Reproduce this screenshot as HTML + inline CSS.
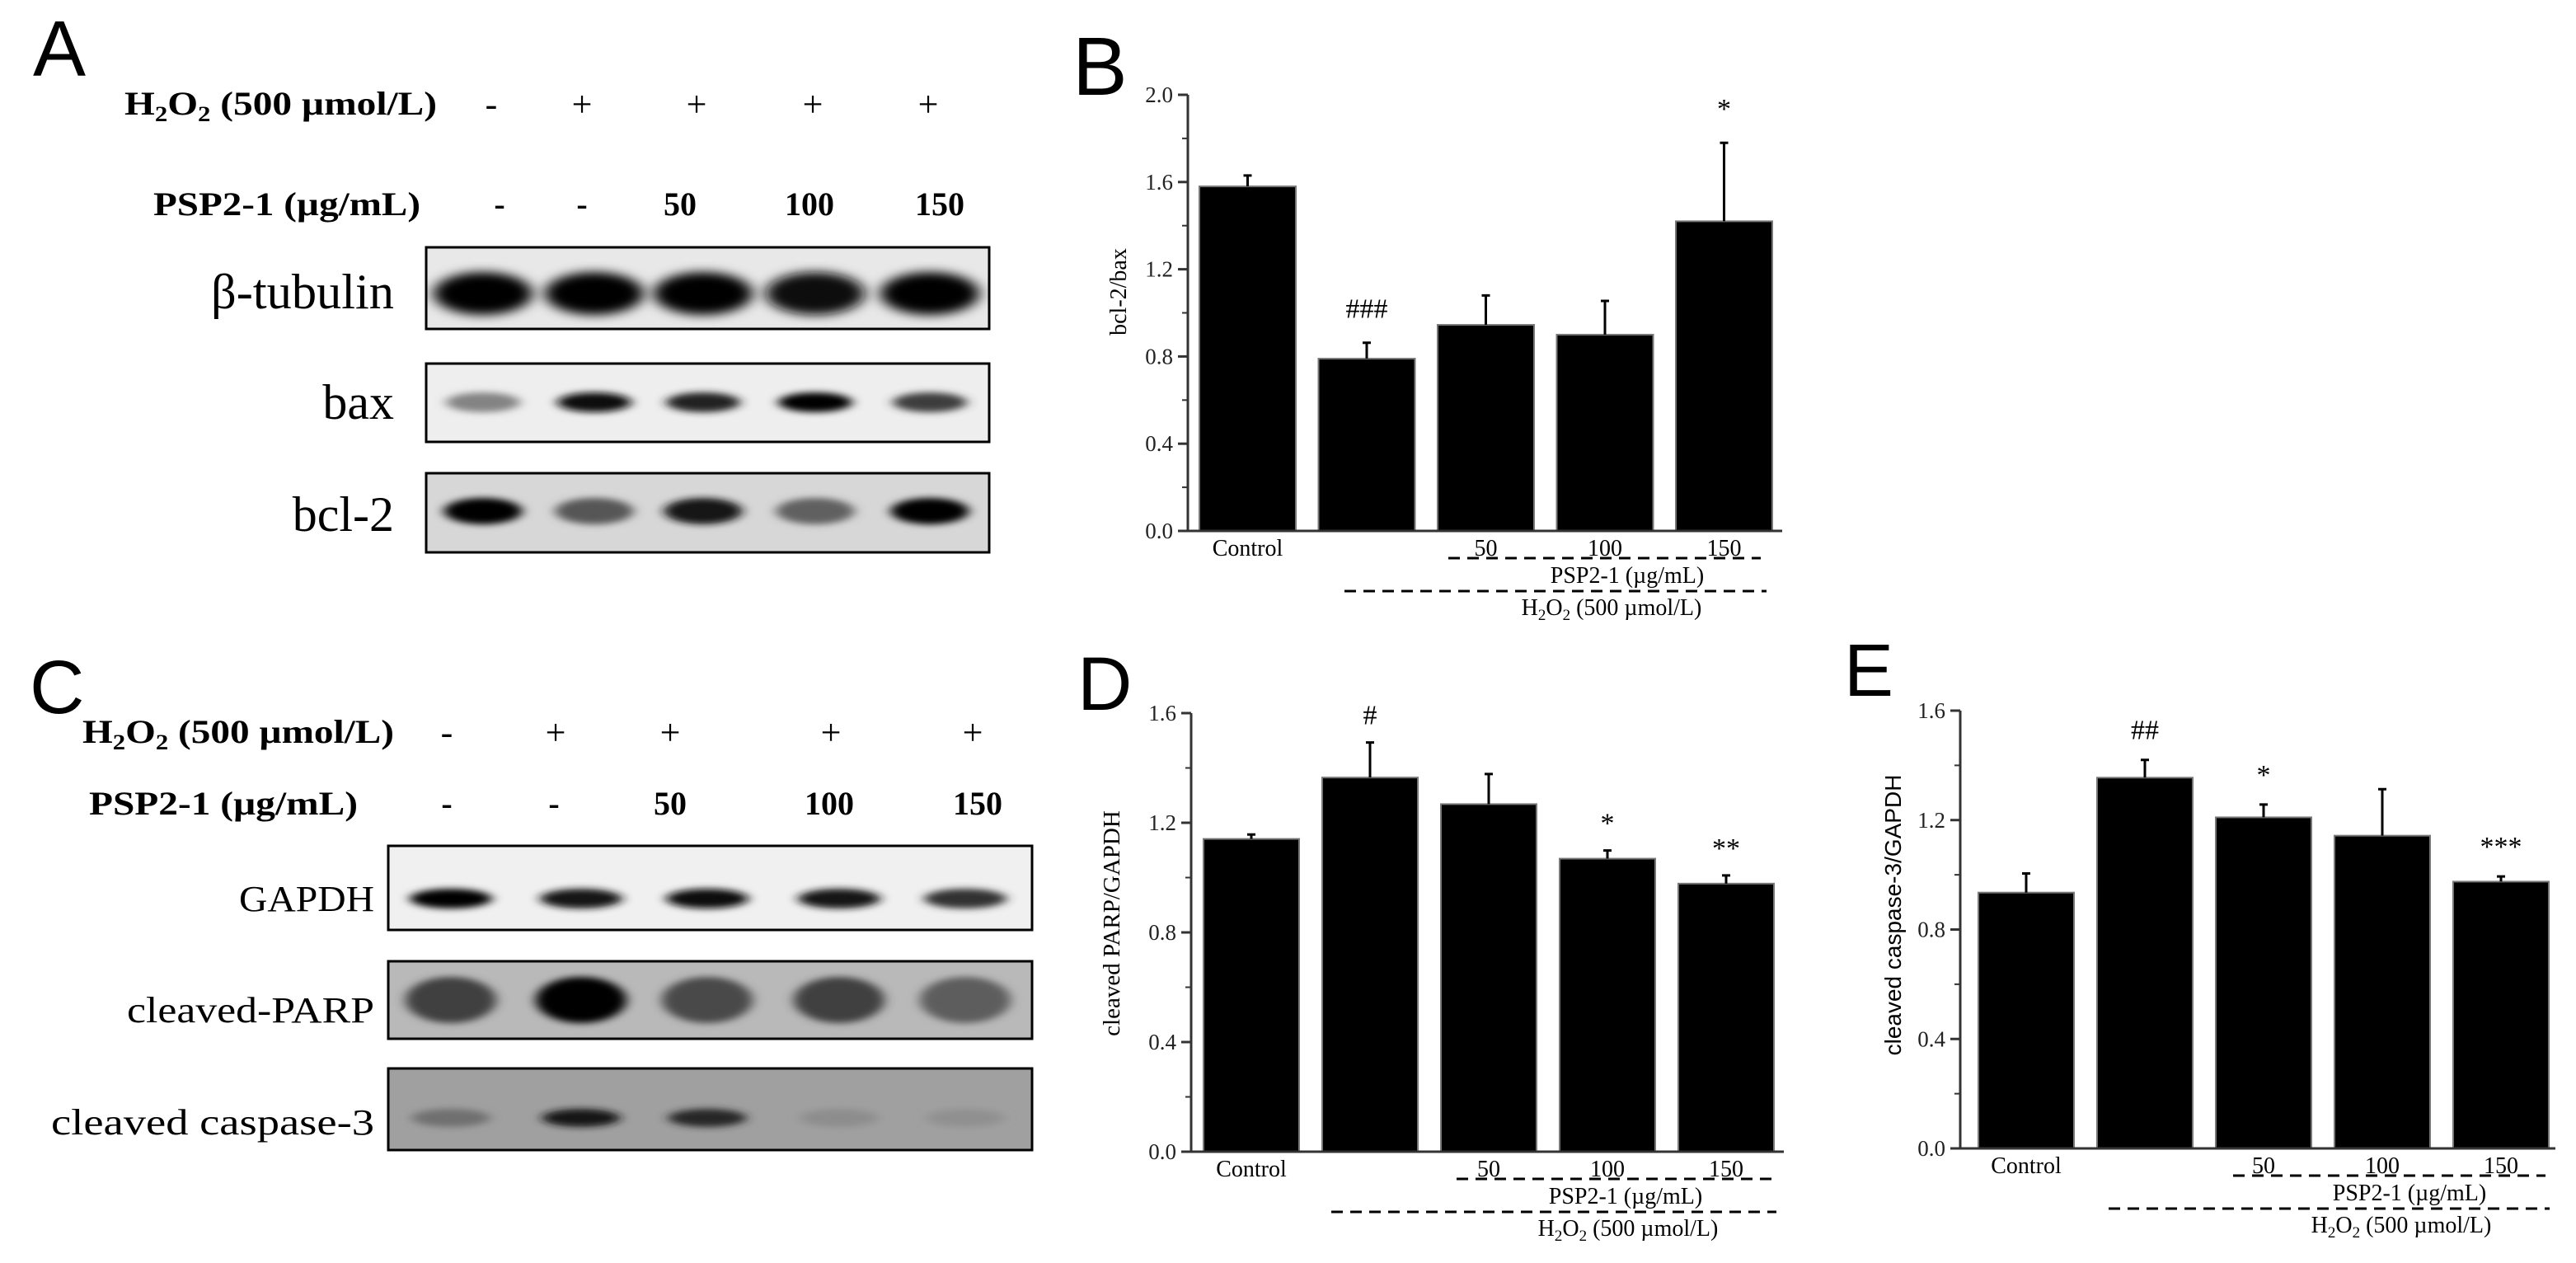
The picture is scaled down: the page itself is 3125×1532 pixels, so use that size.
<!DOCTYPE html>
<html><head><meta charset="utf-8">
<style>
html,body{margin:0;padding:0;background:#fff;}
svg{display:block;}
.serif{font-family:"Liberation Serif",serif;}
.sans{font-family:"Liberation Sans",sans-serif;}
</style></head>
<body>
<svg id="fig" width="3125" height="1532" viewBox="0 0 3125 1532" xmlns="http://www.w3.org/2000/svg">
<defs>
<filter id="blurB" x="-50%" y="-100%" width="200%" height="300%"><feGaussianBlur stdDeviation="9 6"/></filter>
<filter id="blurS" x="-50%" y="-100%" width="200%" height="300%"><feGaussianBlur stdDeviation="7 4"/></filter>
</defs>

<!-- Panel letters -->
<text x="40" y="92" class="sans" font-size="96">A</text>
<text x="1301" y="115" class="sans" font-size="100">B</text>
<text x="36" y="865" class="sans" font-size="92">C</text>
<text x="1307" y="861" class="sans" font-size="92">D</text>
<text x="2237" y="844" class="sans" font-size="90">E</text>

<!-- Panel A headers -->
<g class="serif" font-weight="bold">
<text x="151" y="139" font-size="40" textLength="379" lengthAdjust="spacingAndGlyphs">H<tspan font-size="26" dy="8">2</tspan><tspan dy="-8">O</tspan><tspan font-size="26" dy="8">2</tspan><tspan dy="-8"> (500 µmol/L)</tspan></text>
<text x="186" y="261" font-size="40" textLength="324" lengthAdjust="spacingAndGlyphs">PSP2-1 (µg/mL)</text>
</g>
<g id="aSigns" class="serif" font-size="44" text-anchor="middle"></g>

<!-- Panel C headers -->
<g class="serif" font-weight="bold">
<text x="100" y="901" font-size="40" textLength="378" lengthAdjust="spacingAndGlyphs">H<tspan font-size="26" dy="8">2</tspan><tspan dy="-8">O</tspan><tspan font-size="26" dy="8">2</tspan><tspan dy="-8"> (500 µmol/L)</tspan></text>
<text x="108" y="988" font-size="40" textLength="326" lengthAdjust="spacingAndGlyphs">PSP2-1 (µg/mL)</text>
</g>
<g id="cSigns" class="serif" font-size="44" text-anchor="middle"></g>

<!-- Blot labels -->
<g class="serif" text-anchor="end">
<text x="478" y="374" font-size="60" textLength="222" lengthAdjust="spacingAndGlyphs">β-tubulin</text>
<text x="478" y="508" font-size="60">bax</text>
<text x="478" y="644" font-size="60">bcl-2</text>
<text x="454" y="1105" font-size="44" textLength="164" lengthAdjust="spacingAndGlyphs">GAPDH</text>
<text x="454" y="1240" font-size="44" textLength="300" lengthAdjust="spacingAndGlyphs">cleaved-PARP</text>
<text x="454" y="1376" font-size="44" textLength="392" lengthAdjust="spacingAndGlyphs">cleaved caspase-3</text>
</g>
<g id="blots"></g>

<g id="chartB"></g>
<g id="chartD"></g>
<g id="chartE"></g>
</svg>

<script>
// ---- Chart data ----
const categories = ["Control", "", "50", "100", "150"];
const bValues = [1.58, 0.79, 0.945, 0.90, 1.42];
const bErrors = [0.05, 0.073, 0.135, 0.155, 0.36];
const bMarks = ["", "###", "", "", "*"];
const bTicks = ["0.0", "0.4", "0.8", "1.2", "1.6", "2.0"];
const dValues = [1.141, 1.365, 1.268, 1.069, 0.978];
const dErrors = [0.016, 0.128, 0.11, 0.03, 0.03];
const dMarks = ["", "#", "", "*", "**"];
const eValues = [0.935, 1.355, 1.21, 1.143, 0.975];
const eErrors = [0.07, 0.065, 0.047, 0.17, 0.019];
const eMarks = ["", "##", "*", "", "***"];
const deTicks = ["0.0", "0.4", "0.8", "1.2", "1.6"];

// ---- Blot data (band intensities per lane) ----
const tubulinBands = [1, 1, 1, 0.95, 1];
const baxBands = [0.45, 0.95, 0.85, 1, 0.75];
const bcl2Bands = [1, 0.6, 0.9, 0.55, 1];
const gapdhBands = [1, 0.9, 0.95, 0.9, 0.8];
const parpBands = [0.65, 1, 0.6, 0.65, 0.5];
const caspBands = [0.3, 0.85, 0.75, 0.12, 0.1];
const h2o2Signs = ["-", "+", "+", "+", "+"];
const pspSigns = ["-", "-", "50", "100", "150"];

const NS = "http://www.w3.org/2000/svg";
function mk(tag, attrs, parent){
  const e = document.createElementNS(NS, tag);
  for (const k in attrs) e.setAttribute(k, attrs[k]);
  parent.appendChild(e);
  return e;
}

// Treatment signs
function signs(gid, xs1, y1, xs2, y2){
  const g = document.getElementById(gid);
  h2o2Signs.forEach((s,i)=>{
    const t = mk('text',{x:xs1[i], y:y1, 'font-size':44}, g);
    
    
    t.textContent = s;
  });
  pspSigns.forEach((s,i)=>{
    const t = mk('text',{x:xs2[i], y:y2, 'font-weight':'bold', 'font-size':40}, g);
    
    
    t.textContent = s;
  });
}
signs('aSigns', [596,706,845,986,1126], 141, [606,706,825,982,1140], 261);
signs('cSigns', [542,674,813,1008,1180], 903, [542,672,813,1006,1186], 988);

// Blots
const blots = document.getElementById('blots');
function blot(name, x, y, w, h, bgLevel, lanes, bandY, bw, bh, intens, filt){
  const g = mk('g', {}, blots);
  
  
  const bg = `rgb(${bgLevel},${bgLevel},${bgLevel})`;
  mk('rect', {x:x, y:y, width:w, height:h, fill:bg}, g);
  const inner = mk('svg', {x:x, y:y, width:w, height:h, viewBox:`${x} ${y} ${w} ${h}`, overflow:'hidden'}, g);
  intens.forEach((v,i)=>{
    const c = Math.round(bgLevel*(1-v));
    const b = mk('ellipse', {cx:lanes[i], cy:bandY, rx:bw/2, ry:bh/2, fill:`rgb(${c},${c},${c})`, filter:'url('+filt+')'}, inner);
    
    
  });
  mk('rect', {x:x, y:y, width:w, height:h, fill:'none', stroke:'#000', 'stroke-width':3}, g);
}
const laneA = [586,721,853,989,1128];
const laneC = [547,705,858,1018,1171];
blot('beta-tubulin-blot', 517, 300, 683, 99, 232, laneA, 356, 120, 52, tubulinBands, '#blurB');
blot('bax-blot', 517, 441, 683, 95, 238, laneA, 488, 90, 24, baxBands, '#blurS');
blot('bcl2-blot', 517, 574, 683, 96, 215, laneA, 620, 95, 32, bcl2Bands, '#blurS');
blot('gapdh-blot', 471, 1026, 781, 102, 240, laneC, 1090, 100, 24, gapdhBands, '#blurS');
blot('cleaved-parp-blot', 471, 1166, 781, 94, 185, laneC, 1213, 110, 56, parpBands, '#blurS');
blot('cleaved-caspase3-blot', 471, 1296, 781, 99, 160, laneC, 1356, 95, 22, caspBands, '#blurS');

// Bar charts
function chart(gid, cfg, values, errors, marks, ticks){
  const g = document.getElementById(gid);
  const ymax = parseFloat(ticks[ticks.length-1]);
  const yS = v => cfg.y0 - (v/ymax)*(cfg.y0-cfg.yTop);
  const xS = i => cfg.bx0 + i*cfg.step;
  values.forEach((v,i)=>{
    const r = mk('rect', {x:xS(i), y:yS(v), width:cfg.bw, height:cfg.y0-yS(v), fill:'#000', stroke:'#777', 'stroke-width':2}, g);
    
    
    const cx = xS(i)+cfg.bw/2, top = yS(v+errors[i]);
    const eb = mk('path', {d:`M${cx},${yS(v)}V${top}M${cx-5},${top}H${cx+5}`, stroke:'#000', 'stroke-width':3, fill:'none'}, g);
    
    
    if (marks[i]) {
      const t = mk('text', {x:cx, y:top-cfg.markOff, 'text-anchor':'middle', 'font-size':34, class:'serif'}, g);
      
      
      t.textContent = marks[i];
    }
    const xl = mk('text', {x:cx, y:cfg.y0+30, 'text-anchor':'middle', 'font-size':28, class:'serif'}, g);
    
    
    xl.textContent = categories[i];
  });
  const ax = mk('path', {d:`M${cfg.x0},${cfg.yTop}V${cfg.y0}H${cfg.xEnd}`, stroke:'#333', 'stroke-width':3, fill:'none'}, g);
  
  
  ticks.forEach((t,i)=>{
    const v = parseFloat(t), y = yS(v);
    mk('line', {x1:cfg.x0-12, x2:cfg.x0, y1:y, y2:y, stroke:'#333', 'stroke-width':3}, g);
    if (i < ticks.length-1) {
      const ym = yS(v + ymax/(ticks.length-1)/2);
      mk('line', {x1:cfg.x0-7, x2:cfg.x0, y1:ym, y2:ym, stroke:'#333', 'stroke-width':2}, g);
    }
    const tl = mk('text', {x:cfg.x0-18, y:y+9, 'text-anchor':'end', 'font-size':27, class:'serif', fill:'#222'}, g);
    
    
    tl.textContent = t;
  });
  const yl = mk('text', {x:0, y:0, transform:`translate(${cfg.ylx},${cfg.yly}) rotate(-90)`, 'text-anchor':'middle', 'font-size':cfg.ylSize, class:cfg.ylClass}, g);
  
  
  yl.textContent = cfg.ylabel;
  const d1 = mk('line', {x1:cfg.d1[0], x2:cfg.d1[1], y1:cfg.y0+33, y2:cfg.y0+33, stroke:'#000', 'stroke-width':3, 'stroke-dasharray':'14 9'}, g);
  
  
  const t1 = mk('text', {x:cfg.t1, y:cfg.y0+63, 'text-anchor':'middle', 'font-size':28, class:'serif'}, g);
  
  
  t1.textContent = 'PSP2-1 (µg/mL)';
  const d2 = mk('line', {x1:cfg.d2[0], x2:cfg.d2[1], y1:cfg.y0+73, y2:cfg.y0+73, stroke:'#000', 'stroke-width':3, 'stroke-dasharray':'14 9'}, g);
  
  
  const t2 = mk('text', {x:cfg.t2, y:cfg.y0+102, 'text-anchor':'middle', 'font-size':28, class:'serif'}, g);
  
  
  t2.innerHTML = 'H<tspan font-size="19" dy="6">2</tspan><tspan dy="-6">O</tspan><tspan font-size="19" dy="6">2</tspan><tspan dy="-6"> (500 µmol/L)</tspan>';
}

chart('chartB', {x0:1441, y0:644, yTop:115, xEnd:2162, bx0:1455, step:144.5, bw:117, markOff:30,
  ylx:1366, yly:354, ylSize:28, ylClass:'serif', ylabel:'bcl-2/bax',
  d1:[1757,2136], t1:1974, d2:[1631,2143], t2:1955}, bValues, bErrors, bMarks, bTicks);
chart('chartD', {x0:1445, y0:1397, yTop:865, xEnd:2164, bx0:1460, step:144, bw:116, markOff:22,
  ylx:1358, yly:1120, ylSize:29, ylClass:'serif', ylabel:'cleaved PARP/GAPDH',
  d1:[1767,2150], t1:1972, d2:[1615,2155], t2:1975}, dValues, dErrors, dMarks, deTicks);
chart('chartE', {x0:2378, y0:1393, yTop:862, xEnd:3100, bx0:2400, step:144, bw:116, markOff:25,
  ylx:2306, yly:1110, ylSize:28, ylClass:'sans', ylabel:'cleaved caspase-3/GAPDH',
  d1:[2709,3088], t1:2923, d2:[2558,3093], t2:2913}, eValues, eErrors, eMarks, deTicks);
</script>
</body></html>
